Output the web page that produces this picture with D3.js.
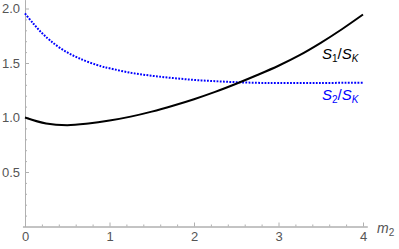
<!DOCTYPE html>
<html>
<head>
<meta charset="utf-8">
<script src="https://cdn.jsdelivr.net/npm/d3@7"></script>
<style>
  html, body { margin: 0; padding: 0; background: #fff; }
  svg { display: block; font-family: "Liberation Sans", Arial, sans-serif; }
</style>
</head>
<body>
<svg id="chart" width="399" height="249"></svg>
<script>
// m2 sample points and curve values
const m2S1 = [0, 0.25, 0.5, 0.75, 1, 1.25, 1.5, 1.75, 2, 2.25, 2.5, 2.75, 3, 3.25, 3.5, 3.75, 4];
const s1Values = [1.0, 0.945, 0.93, 0.945, 0.972, 1.008, 1.054, 1.108, 1.168, 1.235, 1.31, 1.39, 1.475, 1.572, 1.685, 1.81, 1.945];
const m2S2 = [0, 0.1, 0.2, 0.3, 0.45, 0.65, 0.9, 1, 1.25, 1.5, 1.75, 2, 2.25, 2.5, 2.75, 3, 3.5, 4];
const s2Values = [1.955, 1.86, 1.775, 1.705, 1.62, 1.54, 1.47, 1.452, 1.41, 1.383, 1.362, 1.345, 1.333, 1.324, 1.318, 1.316, 1.317, 1.319];
const xTicks = [0, 1, 2, 3, 4];
const yTicks = [0.5, 1.0, 1.5, 2.0];

const svg = d3.select('#chart');
const x = d3.scaleLinear().domain([0, 4]).range([25, 363]);
const y = d3.scaleLinear().domain([0, 2]).range([226.5, 8.5]);

const axisColor = '#b0b0b0';
const labelColor = '#555';

// axes span slightly past the data range, like the original padding
const xa = x.copy().domain([-0.03, 4.05]).range([x(-0.03), x(4.05)]);
const ya = y.copy().domain([0, 2.08]).range([y(0), y(2.08)]);

function styleAxis(g) {
  g.selectAll('path.domain').attr('stroke', axisColor);
  g.selectAll('line').attr('stroke', axisColor);
  g.selectAll('text').attr('fill', labelColor).style('font-size', '13px').style('font-family', '"Liberation Sans", Arial, sans-serif');
}

const xMinor = d3.range(0, 4.01, 0.2).map(v => +v.toFixed(1)).filter(v => !xTicks.includes(v));
const yMinor = d3.range(0.1, 2.01, 0.1).map(v => +v.toFixed(1)).filter(v => !yTicks.includes(v));

svg.append('g').attr('transform', `translate(0,${y(0)})`)
  .call(d3.axisBottom(xa).tickValues(xMinor).tickSize(-2).tickFormat('').tickSizeOuter(0))
  .call(styleAxis);
svg.append('g').attr('transform', `translate(0,${y(0)})`)
  .call(d3.axisBottom(xa).tickValues(xTicks).tickSize(-4).tickPadding(5).tickFormat(d3.format('d')).tickSizeOuter(0))
  .call(styleAxis);

svg.append('g').attr('transform', `translate(${x(0)},0)`)
  .call(d3.axisLeft(ya).tickValues(yMinor).tickSize(-2).tickFormat('').tickSizeOuter(0))
  .call(styleAxis);
svg.append('g').attr('transform', `translate(${x(0)},0)`)
  .call(d3.axisLeft(ya).tickValues(yTicks).tickSize(-4).tickPadding(5).tickFormat(d3.format('.1f')).tickSizeOuter(0))
  .call(styleAxis);

const line = d3.line().x(d => x(d[0])).y(d => y(d[1])).curve(d3.curveCatmullRom.alpha(0.5));

svg.append('path')
  .datum(m2S2.map((m, i) => [m, s2Values[i]]))
  .attr('d', line)
  .attr('fill', 'none')
  .attr('stroke', '#0000ff')
  .attr('stroke-width', 2)
  .attr('stroke-dasharray', '1.8,1.4');

svg.append('path')
  .datum(m2S1.map((m, i) => [m, s1Values[i]]))
  .attr('d', line)
  .attr('fill', 'none')
  .attr('stroke', '#000')
  .attr('stroke-width', 2);

// curve labels
function ratioLabel(sub, color, px, py) {
  const t = svg.append('text').attr('x', px).attr('y', py)
    .attr('fill', color).style('font-size', '15px');
  t.append('tspan').style('font-style', 'italic').text('S');
  t.append('tspan').attr('dy', 3).style('font-size', '10px').text(sub);
  t.append('tspan').attr('dy', -3).text('/');
  t.append('tspan').style('font-style', 'italic').text('S');
  t.append('tspan').attr('dy', 3).style('font-size', '10px').style('font-style', 'italic').text('K');
}
ratioLabel('1', '#000', 322, 59);
ratioLabel('2', '#0000ff', 322, 100);

// x axis label
const xl = svg.append('text').attr('x', 377).attr('y', 233).attr('fill', labelColor).style('font-size', '14px');
xl.append('tspan').style('font-style', 'italic').text('m');
xl.append('tspan').attr('dy', 3).style('font-size', '10px').text('2');
</script>
</body>
</html>
